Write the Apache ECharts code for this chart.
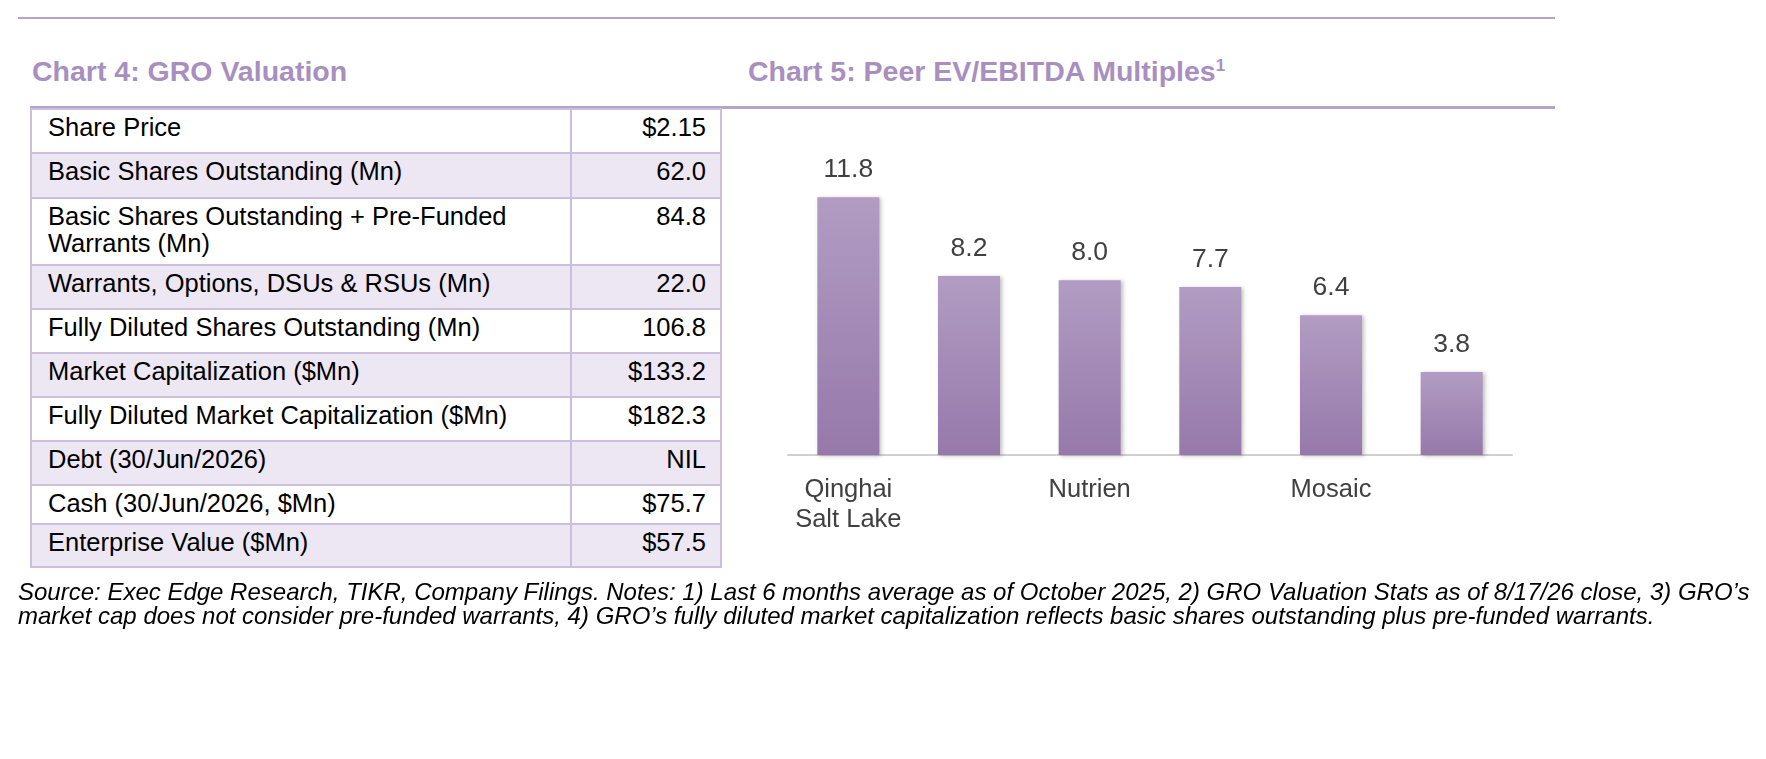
<!DOCTYPE html>
<html><head><meta charset="utf-8">
<script src="https://cdn.jsdelivr.net/npm/echarts@6/dist/echarts.min.js"></script>
<style>
body{margin:0;width:1766px;height:759px;position:relative;background:#fff;font-family:Arial,"Liberation Sans",sans-serif;overflow:hidden}
.hl{position:absolute;background:#b7a3c9}
.title{position:absolute;top:55px;font-size:28.5px;font-weight:bold;color:#a88fc0}
table{position:absolute;left:30px;top:108px;border-collapse:collapse;font-size:25.5px;color:#000}
td{border:2px solid #cdbfdc;padding:0 0 0 16px;vertical-align:top;line-height:27px}
td.v{text-align:right;padding:0 14px 0 0}
tr.s td{background:#ede7f3}
#chart{position:absolute;left:0;top:0;width:1766px;height:759px}
.foot{position:absolute;left:18px;top:580px;width:1745px;font-size:24px;font-style:italic;line-height:24px;color:#000}
</style></head><body>
<div class="hl" style="left:18px;top:17px;width:1537px;height:2px"></div>
<div class="hl" style="left:30px;top:106px;width:1525px;height:3px"></div>
<div class="title" style="left:32px">Chart 4: GRO Valuation</div>
<div class="title" style="left:748px">Chart 5: Peer EV/EBITDA Multiples<sup style="font-size:17px">1</sup></div>
<table id="tbl"></table>
<div id="chart"></div>
<div class="foot">Source: Exec Edge Research, TIKR, Company Filings. Notes: 1) Last 6 months average as of October 2025, 2) GRO Valuation Stats as of 8/17/26 close, 3) GRO’s market cap does not consider pre-funded warrants, 4) GRO’s fully diluted market capitalization reflects basic shares outstanding plus pre-funded warrants.</div>
<script>
const rowLabels=["Share Price","Basic Shares Outstanding (Mn)","Basic Shares Outstanding + Pre-Funded Warrants (Mn)","Warrants, Options, DSUs & RSUs (Mn)","Fully Diluted Shares Outstanding (Mn)","Market Capitalization ($Mn)","Fully Diluted Market Capitalization ($Mn)","Debt (30/Jun/2026)","Cash (30/Jun/2026, $Mn)","Enterprise Value ($Mn)"];
const rowValues=["$2.15","62.0","84.8","22.0","106.8","$133.2","$182.3","NIL","$75.7","$57.5"];
const categories=["Qinghai\nSalt Lake","Intrepid","Nutrien","ICL","Mosaic","K+S"];
const multiples=[11.8,8.2,8.0,7.7,6.4,3.8];

const rowH=[44,45,67,44,44,44,44,44,39,43];
const tbl=document.getElementById('tbl');
rowLabels.forEach((l,i)=>{
  const tr=document.createElement('tr');
  if(i%2===1)tr.className='s';
  tr.style.height=rowH[i]+'px';
  const a=document.createElement('td');a.style.width='522px';a.style.paddingTop='4px';
  a.innerHTML=i===2?'Basic Shares Outstanding + Pre-Funded<br>Warrants (Mn)':l;
  const b=document.createElement('td');b.className='v';b.style.width='134px';b.style.paddingTop='4px';b.textContent=rowValues[i];
  tr.appendChild(a);tr.appendChild(b);tbl.appendChild(tr);
});

const ch=echarts.init(document.getElementById('chart'));
ch.setOption({
  animation:false,
  grid:{left:788,right:254,top:193,bottom:304},
  xAxis:{type:'category',data:categories,axisTick:{show:false},
    axisLine:{lineStyle:{color:'#d0d0d0',width:2}},
    axisLabel:{color:'#404040',fontSize:25.5,margin:20,lineHeight:30,fontFamily:'Arial'}},
  yAxis:{type:'value',min:0,max:12,show:false,splitLine:{show:false}},
  series:[{type:'bar',data:multiples,barWidth:62,
    itemStyle:{color:new echarts.graphic.LinearGradient(0,0,0,1,[{offset:0,color:'#b19cc3'},{offset:1,color:'#9679aa'}]),
      shadowColor:'rgba(0,0,0,0.25)',shadowBlur:4,shadowOffsetX:2,shadowOffsetY:1},
    label:{show:true,position:'top',distance:14,color:'#404040',fontSize:26.5,fontFamily:'Arial',formatter:p=>p.value.toFixed(1)}}]
});
</script>
</body></html>
